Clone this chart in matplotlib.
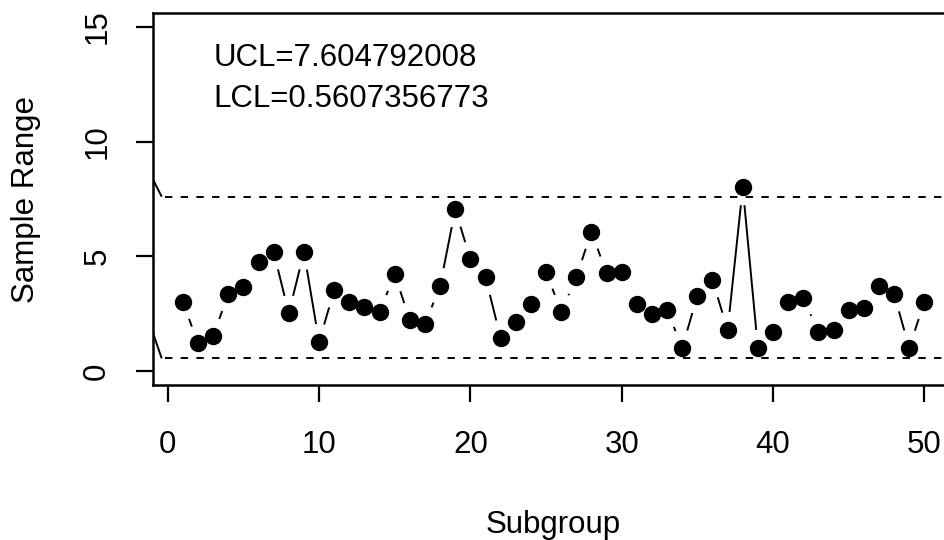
import numpy as np
import matplotlib.pyplot as plt

plt.rcParams['font.family'] = ['Liberation Sans', 'DejaVu Sans']
plt.rcParams['lines.scale_dashes'] = False

# Subgroup ranges
subgroup = np.arange(1, 51)
sample_range = [3.02, 1.21, 1.54, 3.36, 3.65, 4.77, 5.20, 2.52, 5.20, 1.28,
                3.53, 3.02, 2.78, 2.59, 4.23, 2.22, 2.05, 3.72, 7.05, 4.87,
                4.09, 1.45, 2.15, 2.92, 4.33, 2.59, 4.09, 6.08, 4.26, 4.33,
                2.95, 2.49, 2.66, 1.02, 3.29, 3.97, 1.80, 8.01, 1.02, 1.69,
                3.02, 3.20, 1.69, 1.79, 2.66, 2.76, 3.72, 3.36, 1.02, 3.02]

ucl = 7.604792008
lcl = 0.5607356773
# heights where the limit lines enter from the left edge
lead_in = [8.33, 1.64]

fs = 22.5
lw = 1.4

fig = plt.figure(figsize=(9.44, 5.4), dpi=100)
ax = fig.add_axes([0.1623, 0.287, 0.8483, 0.6889])
ax.set_xlim(-0.96, 51.96)
ax.set_ylim(-0.6, 15.6)


def gapped_segments(x, y, gap_px):
    # R type="b": connecting lines stop short of each point
    pts = ax.transData.transform(np.column_stack([x, y]))
    inv = ax.transData.inverted()
    segs = []
    for p, q in zip(pts[:-1], pts[1:]):
        d = q - p
        length = np.hypot(*d)
        if length > 2 * gap_px:
            u = d / length
            segs.append(inv.transform(np.array([p + u * gap_px, q - u * gap_px])))
    return segs


for seg in gapped_segments(subgroup, sample_range, 18):
    ax.plot(seg[:, 0], seg[:, 1], color='black', lw=lw, solid_capstyle='butt')

ax.plot(subgroup, sample_range, 'o', color='black', ms=11.5, mec='black')

# control limits
x0 = ax.get_xlim()[0]
for start, lim in zip(lead_in, [ucl, lcl]):
    ax.plot([x0, -0.4], [start, lim], color='black', lw=lw, solid_capstyle='butt')
    ax.plot([-0.2, 53], [lim, lim], color='black', lw=lw, dashes=(5.3, 6))

ax.text(3.0, 13.64, f'UCL={ucl}', fontsize=fs, ha='left', va='center')
ax.text(3.0, 11.85, f'LCL={lcl}', fontsize=fs, ha='left', va='center')

ax.spines['right'].set_visible(False)
for s in ['left', 'top', 'bottom']:
    ax.spines[s].set_linewidth(1.8)

ax.set_xticks([0, 10, 20, 30, 40, 50])
ax.set_yticks([0, 5, 10, 15])
ax.tick_params(axis='both', length=12.5, width=1.6, labelsize=fs, direction='out')
ax.tick_params(axis='x', pad=20)
ax.tick_params(axis='y', pad=17)
for lab in ax.get_yticklabels():
    lab.set_rotation(90)
    lab.set_va('center')

ax.set_xlabel('Subgroup', fontsize=fs)
ax.set_ylabel('Sample Range', fontsize=fs)
ax.xaxis.set_label_coords(0.5, -0.335)
ax.yaxis.set_label_coords(-0.14, 0.5)

fig.savefig('out.png', dpi=100)
